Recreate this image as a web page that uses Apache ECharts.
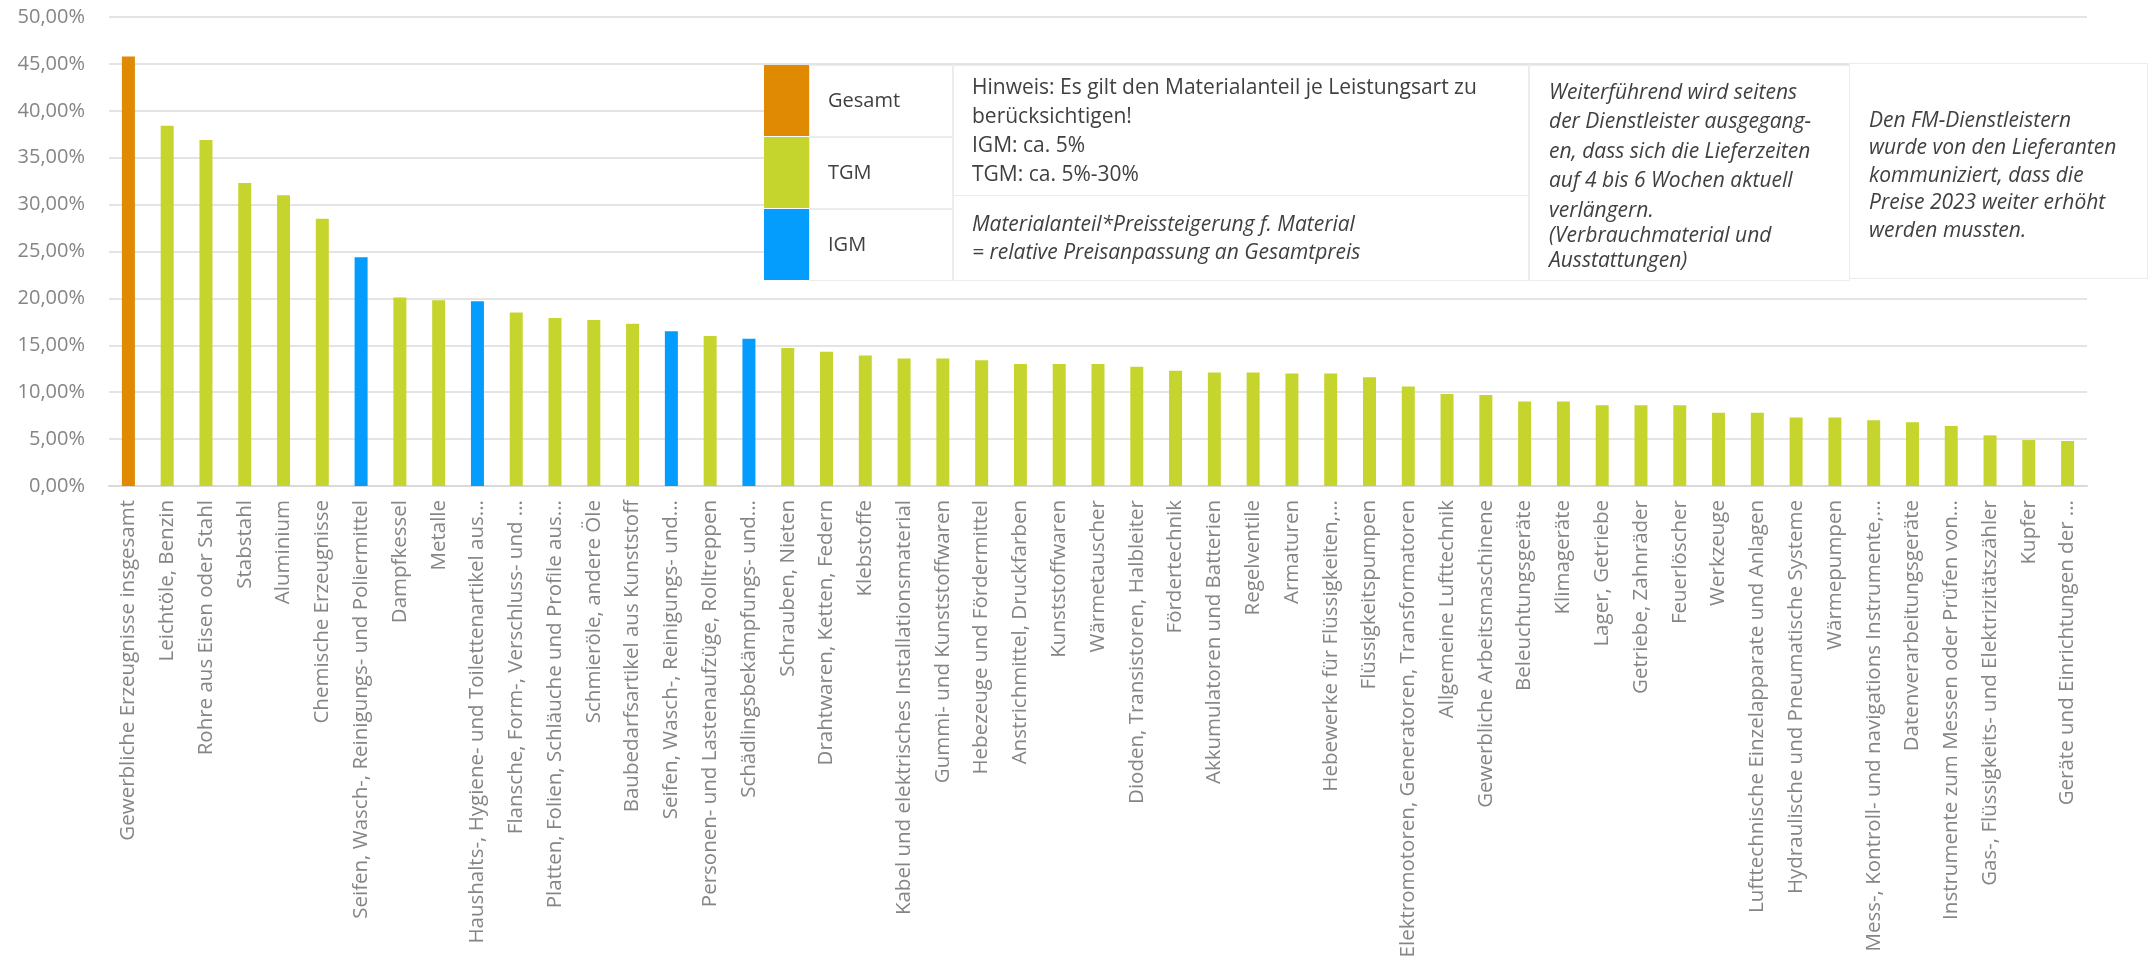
<!DOCTYPE html>
<html>
<head>
<meta charset="utf-8">
<script src="https://cdn.jsdelivr.net/npm/echarts@6/dist/echarts.min.js"></script>
<style>
html,body{margin:0;padding:0;background:#fff;}
#chart{width:2151px;height:969px;}
</style>
</head>
<body>
<div id="chart"></div>
<script>
const categories = [
  "Gewerbliche Erzeugnisse insgesamt",
  "Leichtöle, Benzin",
  "Rohre aus Eisen oder Stahl",
  "Stabstahl",
  "Aluminium",
  "Chemische Erzeugnisse",
  "Seifen, Wasch-, Reinigungs- und Poliermittel",
  "Dampfkessel",
  "Metalle",
  "Haushalts-, Hygiene- und Toilettenartikel aus...",
  "Flansche, Form-, Verschluss- und ...",
  "Platten, Folien, Schläuche und Profile aus...",
  "Schmieröle, andere Öle",
  "Baubedarfsartikel aus Kunststoff",
  "Seifen, Wasch-, Reinigungs- und...",
  "Personen- und Lastenaufzüge, Rolltreppen",
  "Schädlingsbekämpfungs- und...",
  "Schrauben, Nieten",
  "Drahtwaren, Ketten, Federn",
  "Klebstoffe",
  "Kabel und elektrisches Installationsmaterial",
  "Gummi- und Kunststoffwaren",
  "Hebezeuge und Fördermittel",
  "Anstrichmittel, Druckfarben",
  "Kunststoffwaren",
  "Wärmetauscher",
  "Dioden, Transistoren, Halbleiter",
  "Fördertechnik",
  "Akkumulatoren und Batterien",
  "Regelventile",
  "Armaturen",
  "Hebewerke für Flüssigkeiten,...",
  "Flüssigkeitspumpen",
  "Elektromotoren, Generatoren, Transformatoren",
  "Allgemeine Lufttechnik",
  "Gewerbliche Arbeitsmaschinene",
  "Beleuchtungsgeräte",
  "Klimageräte",
  "Lager, Getriebe",
  "Getriebe, Zahnräder",
  "Feuerlöscher",
  "Werkzeuge",
  "Lufttechnische Einzelapparate und Anlagen",
  "Hydraulische und Pneumatische Systeme",
  "Wärmepumpen",
  "Mess-, Kontroll- und navigations Instrumente,...",
  "Datenverarbeitungsgeräte",
  "Instrumente zum Messen oder Prüfen von...",
  "Gas-, Flüssigkeits- und Elektrizitätszähler",
  "Kupfer",
  "Geräte und Einrichtungen der ..."
];
const values = [
  45.8, 38.4, 36.9, 32.3, 31.0, 28.5, 24.4, 20.1, 19.8, 19.7,
  18.5, 17.9, 17.7, 17.3, 16.5, 16.0, 15.7, 14.7, 14.3, 13.9,
  13.6, 13.6, 13.4, 13.0, 13.0, 13.0, 12.7, 12.3, 12.1, 12.1,
  12.0, 12.0, 11.6, 10.6, 9.8, 9.7, 9.0, 9.0, 8.6, 8.6,
  8.6, 7.8, 7.8, 7.3, 7.3, 7.0, 6.8, 6.4, 5.4, 4.9, 4.8
];
const groups = [
  "Gesamt", "TGM", "TGM", "TGM", "TGM", "TGM", "IGM", "TGM", "TGM", "IGM",
  "TGM", "TGM", "TGM", "TGM", "IGM", "TGM", "IGM", "TGM", "TGM", "TGM",
  "TGM", "TGM", "TGM", "TGM", "TGM", "TGM", "TGM", "TGM", "TGM", "TGM",
  "TGM", "TGM", "TGM", "TGM", "TGM", "TGM", "TGM", "TGM", "TGM", "TGM",
  "TGM", "TGM", "TGM", "TGM", "TGM", "TGM", "TGM", "TGM", "TGM", "TGM", "TGM"
];
const legendNames = ["Gesamt", "TGM", "IGM"];
const groupColors = { Gesamt: "#E08A03", TGM: "#C6D52E", IGM: "#049DFE" };
const yTicks = { min: 0, max: 50, interval: 5 };

const noteHinweis = ["Hinweis: Es gilt den Materialanteil je Leistungsart zu", "berücksichtigen!", "IGM: ca. 5%", "TGM: ca. 5%-30%"];
const noteFormel = ["Materialanteil*Preissteigerung f. Material", "= relative Preisanpassung an Gesamtpreis"];
const noteLiefer = ["Weiterführend wird seitens", "der Dienstleister ausgegang-", "en, dass sich die Lieferzeiten", "auf 4 bis 6 Wochen aktuell", "verlängern.", "(Verbrauchmaterial und", "Ausstattungen)"];
const notePreise = ["Den FM-Dienstleistern", "wurde von den Lieferanten", "kommuniziert, dass die", "Preise 2023 weiter erhöht", "werden mussten."];

const FONT = '"Open Sans", "Noto Sans", sans-serif';
const TXT = '#404040';
const BORDER = '#ececec';

const graphics = [];
function rect(x, y, w, h, fill, stroke) {
  graphics.push({ type: 'rect', z: 100, shape: { x: x, y: y, width: w, height: h },
    style: { fill: fill, stroke: stroke || null, lineWidth: stroke ? 1 : 0 } });
}
function text(str, x, y, size, italic) {
  graphics.push({ type: 'text', z: 101, style: { text: str, x: x, y: y,
    font: (italic ? 'italic ' : '') + size + 'px ' + FONT, fill: TXT, align: 'left', verticalAlign: 'middle' } });
}
// legend table
const rowY = [65, 137, 209];
legendNames.forEach(function (n, i) {
  rect(809.5, rowY[i] + 0.5, 143, 71, '#fff', BORDER);
  rect(764, rowY[i], 45, 71, groupColors[n]);
  text(n, 828, rowY[i] + 36, 20, false);
});
rect(953.5, 65.5, 575, 130, '#fff', BORDER);
rect(953.5, 195.5, 575, 85, '#fff', BORDER);
rect(1529.5, 65.5, 320, 215, '#fff', BORDER);
rect(1849.5, 63.5, 298, 215, '#fff', BORDER);
const hinY = [88, 117, 146, 175];
noteHinweis.forEach(function (s, i) { text(s, 972, hinY[i], 21, false); });
const forY = [225, 253];
noteFormel.forEach(function (s, i) { text(s, 972, forY[i], 21, true); });
const liefY = [93, 122, 152, 181, 211, 236, 261];
noteLiefer.forEach(function (s, i) { text(s, 1549, liefY[i], 21, true); });
const preY = [121, 148, 176, 203, 231];
notePreise.forEach(function (s, i) { text(s, 1869, preY[i], 21, true); });

const chart = echarts.init(document.getElementById('chart'), null, { renderer: 'canvas' });
chart.setOption({
  animation: false,
  backgroundColor: '#fff',
  grid: { left: 109, right: 64, top: 17, bottom: 483, containLabel: false },
  xAxis: {
    type: 'category',
    data: categories,
    axisTick: { show: false },
    axisLine: { lineStyle: { color: '#d9d9d9', width: 2 } },
    axisLabel: { interval: 0, rotate: 90, fontSize: 20.5, color: '#858585', margin: 14, fontFamily: FONT }
  },
  yAxis: {
    type: 'value',
    min: yTicks.min, max: yTicks.max, interval: yTicks.interval,
    axisLine: { show: false }, axisTick: { show: false },
    splitLine: { lineStyle: { color: '#e4e4e4', width: 2 } },
    axisLabel: { fontSize: 20, color: '#858585', margin: 24, fontFamily: FONT,
      formatter: function (v) { return v.toFixed(2).replace('.', ',') + '%'; } }
  },
  series: [{
    type: 'bar',
    barWidth: 13,
    data: values.map(function (v, i) { return { value: v, itemStyle: { color: groupColors[groups[i]] } }; })
  }],
  graphic: graphics
});
</script>
</body>
</html>
